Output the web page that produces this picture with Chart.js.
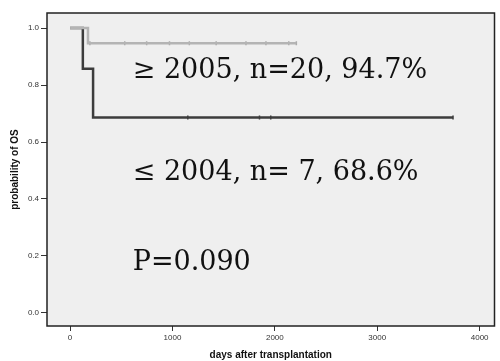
<!DOCTYPE html>
<html>
<head>
<meta charset="utf-8">
<script src="https://cdn.jsdelivr.net/npm/chart.js@4"></script>
<style>
  html, body { margin: 0; padding: 0; background: #fff; }
  #wrap { width: 500px; height: 361px; }
</style>
</head>
<body>
<div id="wrap"><canvas id="osChart"></canvas></div>
<script>
// ---- data ----
const recentDays = [0, 175, 2210];
const recentSurv = [1.0, 0.947, 0.947];
const recentCensor = [194, 534, 748, 971, 1165, 1427, 1718, 1913, 2136, 2210];

const earlyDays = [0, 125, 225, 3740];
const earlySurv = [1.0, 0.857, 0.686, 0.686];
const earlyCensor = [1150, 1850, 1960, 3740];

const xTicks = [0, 1000, 2000, 3000, 4000];
const yTicks = [0.0, 0.2, 0.4, 0.6, 0.8, 1.0];

const noteTexts = ['\u2265 2005, n=20, 94.7%', '\u2264 2004, n= 7, 68.6%', 'P=0.090'];
const noteX = [612, 612, 612];
const noteY = [0.825, 0.467, 0.151];

function toPoints(xs, ys) {
    return xs.map((x, i) => ({ x: x, y: ys[i] }));
}
function censorPoints(days, xs, ys) {
    // survival value at a censor day = last step at or before it
    return days.map(d => {
        let y = ys[0];
        xs.forEach((x, i) => { if (x <= d) y = ys[i]; });
        return { x: d, y: y };
    });
}

const plotBg = {
    id: 'plotBg',
    beforeDraw(chart) {
        const { ctx, chartArea: a } = chart;
        ctx.save();
        ctx.fillStyle = '#efefef';
        ctx.fillRect(a.left, a.top, a.right - a.left, a.bottom - a.top);
        ctx.restore();
    },
    afterDatasetsDraw(chart) {
        const { ctx, chartArea: a, scales } = chart;
        ctx.save();
        ctx.strokeStyle = '#222';
        ctx.lineWidth = 1.5;
        ctx.strokeRect(a.left, a.top, a.right - a.left, a.bottom - a.top);
        ctx.fillStyle = '#111';
        ctx.font = '27px "DejaVu Serif"';
        ctx.textBaseline = 'alphabetic';
        noteTexts.forEach((t, i) => {
            ctx.fillText(t, scales.x.getPixelForValue(noteX[i]), scales.y.getPixelForValue(noteY[i]));
        });
        ctx.restore();
    }
};

const ctx = document.getElementById('osChart');
new Chart(ctx, {
    type: 'line',
    data: {
        datasets: [{
            data: toPoints(recentDays, recentSurv),
            borderColor: '#b4b4b4',
            borderWidth: 2.5,
            stepped: 'before',
            pointRadius: 0
        }, {
            data: toPoints(earlyDays, earlySurv),
            borderColor: '#3c3c3c',
            borderWidth: 2.5,
            stepped: 'before',
            pointRadius: 0
        }, {
            data: censorPoints(recentCensor, recentDays, recentSurv),
            showLine: false,
            pointStyle: 'line',
            rotation: 90,
            pointRadius: 2,
            borderColor: '#a8a8a8',
            borderWidth: 1.5
        }, {
            data: censorPoints(earlyCensor, earlyDays, earlySurv),
            showLine: false,
            pointStyle: 'line',
            rotation: 90,
            pointRadius: 2,
            borderColor: '#3c3c3c',
            borderWidth: 1.5
        }]
    },
    options: {
        responsive: true,
        maintainAspectRatio: false,
        animation: false,
        layout: { padding: { top: 13, right: 3, left: 0, bottom: 0 } },
        plugins: { legend: { display: false }, tooltip: { enabled: false } },
        scales: {
            x: {
                type: 'linear',
                min: -225,
                max: 4145,
                afterBuildTicks: s => { s.ticks = xTicks.map(v => ({ value: v })); },
                afterFit: s => { s.height = 35; },
                grid: { drawOnChartArea: false, tickLength: 5, color: '#333' },
                border: { display: false },
                ticks: {
                    color: '#333',
                    font: { family: 'Liberation Sans', size: 8 },
                    padding: 2,
                    callback: v => String(v)
                },
                title: {
                    display: true,
                    text: 'days after transplantation',
                    color: '#111',
                    font: { family: 'Liberation Sans', size: 10, weight: 'bold' },
                    padding: { top: 3, bottom: 0 }
                }
            },
            y: {
                min: -0.046,
                max: 1.053,
                afterBuildTicks: s => { s.ticks = yTicks.map(v => ({ value: v })); },
                afterFit: s => { s.width = 47; },
                grid: { drawOnChartArea: false, tickLength: 6, color: '#333' },
                border: { display: false },
                ticks: {
                    color: '#333',
                    font: { family: 'Liberation Sans', size: 8 },
                    padding: 2,
                    callback: v => v.toFixed(1)
                },
                title: {
                    display: true,
                    text: 'probability of OS',
                    color: '#111',
                    font: { family: 'Liberation Sans', size: 10, weight: 'bold' },
                    padding: { top: 9, bottom: 4 }
                }
            }
        }
    },
    plugins: [plotBg]
});
</script>
</body>
</html>
